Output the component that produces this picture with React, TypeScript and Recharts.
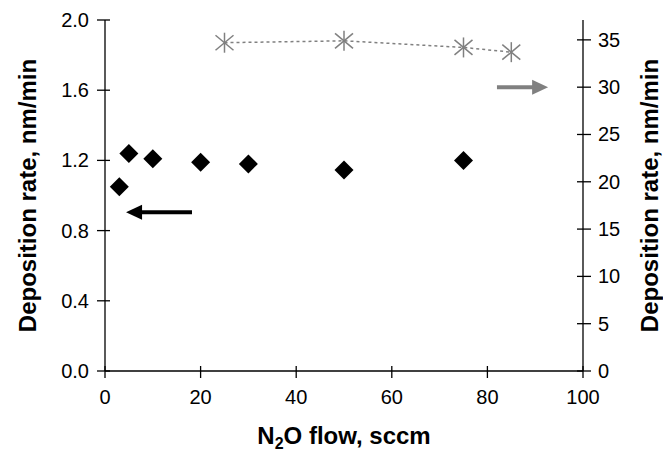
import {
  ReferenceDot,
  ReferenceLine,
  Scatter,
  ScatterChart,
  XAxis,
  YAxis,
} from "recharts";

// N2O flow (sccm) and deposition rate (nm/min, left axis)
const flow = [3, 5, 10, 20, 30, 50, 75];
const rate = [1.05, 1.24, 1.21, 1.19, 1.18, 1.145, 1.2];

// second series, read on the right axis
const flow2 = [25, 50, 75, 85];
const rate2 = [34.7, 34.9, 34.2, 33.7];

const xTicks = [0, 20, 40, 60, 80, 100];
const leftTicks = [0, 0.4, 0.8, 1.2, 1.6, 2.0];
const rightTicks = [0, 5, 10, 15, 20, 25, 30, 35];

// arrows pointing at the axis each series belongs to: [tail, tip] in flow units
const leftArrowX = [18.2, 4.4];
const leftArrowY = 0.905;
const rightArrowX = [82, 92.7];
const rightArrowY = 30;

const FONT = "'Liberation Sans', Arial, sans-serif";
const GREY = "#808080";

const leftData = flow.map((x, i) => ({ x, y: rate[i] }));
const rightData = flow2.map((x, i) => ({ x, y: rate2[i] }));

const Diamond = (props: any) => {
  const { cx, cy } = props;
  const r = 9.5;
  return (
    <polygon
      points={`${cx},${cy - r} ${cx + r},${cy} ${cx},${cy + r} ${cx - r},${cy}`}
      fill="#000"
    />
  );
};

const Star = (props: any) => {
  const { cx, cy } = props;
  const r = 10;
  return (
    <g stroke={GREY} strokeWidth={1.5}>
      <line x1={cx} y1={cy - r} x2={cx} y2={cy + r} />
      <line x1={cx - r * 0.9} y1={cy - r * 0.75} x2={cx + r * 0.9} y2={cy + r * 0.75} />
      <line x1={cx - r * 0.9} y1={cy + r * 0.75} x2={cx + r * 0.9} y2={cy - r * 0.75} />
    </g>
  );
};

const LeftTick = (props: any) => {
  const { x, y, payload } = props;
  return (
    <g>
      <line x1={x - 8} y1={y} x2={x + 5} y2={y} stroke="#000" strokeWidth={1.3} />
      <text x={x - 16} y={y + 7} textAnchor="end" fontSize={20} fontFamily={FONT} fill="#000">
        {payload.value.toFixed(1)}
      </text>
    </g>
  );
};

const RightTick = (props: any) => {
  const { x, y, payload } = props;
  return (
    <g>
      <line x1={x - 6} y1={y} x2={x + 8} y2={y} stroke="#000" strokeWidth={1.3} />
      <text x={x + 15} y={y + 7} textAnchor="start" fontSize={20} fontFamily={FONT} fill="#000">
        {payload.value}
      </text>
    </g>
  );
};

const BottomTick = (props: any) => {
  const { x, y, payload } = props;
  return (
    <g>
      <line x1={x} y1={y - 5} x2={x} y2={y + 7} stroke="#000" strokeWidth={1.3} />
      <text x={x} y={y + 33} textAnchor="middle" fontSize={20} fontFamily={FONT} fill="#000">
        {payload.value}
      </text>
    </g>
  );
};

const sideTitle = (dx: number) => (props: any) => {
  const { viewBox } = props;
  const x = viewBox.x + dx;
  const y = viewBox.y + viewBox.height / 2;
  return (
    <text
      x={x}
      y={y}
      transform={`rotate(-90 ${x} ${y})`}
      textAnchor="middle"
      dominantBaseline="central"
      fontSize={24}
      fontWeight="bold"
      fontFamily={FONT}
      fill="#000"
    >
      Deposition rate, nm/min
    </text>
  );
};

const bottomTitle = (props: any) => {
  const { viewBox } = props;
  const x = viewBox.x + viewBox.width / 2;
  const y = viewBox.y + 73;
  return (
    <text x={x} y={y} textAnchor="middle" fontSize={24} fontWeight="bold" fontFamily={FONT} fill="#000">
      N<tspan fontSize={16} dy={5}>2</tspan>
      <tspan dy={-5}>O flow, sccm</tspan>
    </text>
  );
};

const leftHead = (props: any) => {
  const { cx, cy } = props;
  return <polygon points={`${cx},${cy} ${cx + 16},${cy - 7.5} ${cx + 16},${cy + 7.5}`} fill="#000" />;
};

const rightHead = (props: any) => {
  const { cx, cy } = props;
  return <polygon points={`${cx},${cy} ${cx - 16},${cy - 7.5} ${cx - 16},${cy + 7.5}`} fill={GREY} />;
};

export default function App() {
  return (
    <div style={{ position: "absolute", left: 0, top: 0, background: "#fff" }}>
      <ScatterChart width={663} height={452} margin={{ top: 20, right: 0, bottom: 0, left: 0 }}>
        <XAxis
          type="number"
          dataKey="x"
          domain={[0, 100]}
          ticks={xTicks}
          height={81}
          tickSize={0}
          tickMargin={0}
          tickLine={false}
          axisLine={{ stroke: "#000", strokeWidth: 1.3 }}
          tick={BottomTick}
          label={bottomTitle}
        />
        <YAxis
          yAxisId="left"
          type="number"
          dataKey="y"
          domain={[0, 2]}
          ticks={leftTicks}
          width={105}
          tickSize={0}
          tickMargin={0}
          tickLine={false}
          axisLine={{ stroke: "#000", strokeWidth: 1.3 }}
          tick={LeftTick}
          label={sideTitle(27)}
        />
        <YAxis
          yAxisId="right"
          orientation="right"
          type="number"
          dataKey="y"
          domain={[0, 37.1]}
          ticks={rightTicks}
          width={80}
          tickSize={0}
          tickMargin={0}
          tickLine={false}
          axisLine={{ stroke: "#000", strokeWidth: 1.3 }}
          tick={RightTick}
          label={sideTitle(66)}
        />
        <Scatter
          yAxisId="right"
          data={rightData}
          line={{ stroke: GREY, strokeWidth: 1.5, strokeDasharray: "3 3" }}
          shape={Star}
          isAnimationActive={false}
        />
        <Scatter yAxisId="left" data={leftData} shape={Diamond} isAnimationActive={false} />
        <ReferenceLine
          yAxisId="left"
          segment={[
            { x: leftArrowX[0], y: leftArrowY },
            { x: leftArrowX[1] + 1.7, y: leftArrowY },
          ]}
          stroke="#000"
          strokeWidth={4}
        />
        <ReferenceDot yAxisId="left" x={leftArrowX[1]} y={leftArrowY} shape={leftHead} />
        <ReferenceLine
          yAxisId="right"
          segment={[
            { x: rightArrowX[0], y: rightArrowY },
            { x: rightArrowX[1] - 1.7, y: rightArrowY },
          ]}
          stroke={GREY}
          strokeWidth={4}
        />
        <ReferenceDot yAxisId="right" x={rightArrowX[1]} y={rightArrowY} shape={rightHead} />
      </ScatterChart>
    </div>
  );
}
